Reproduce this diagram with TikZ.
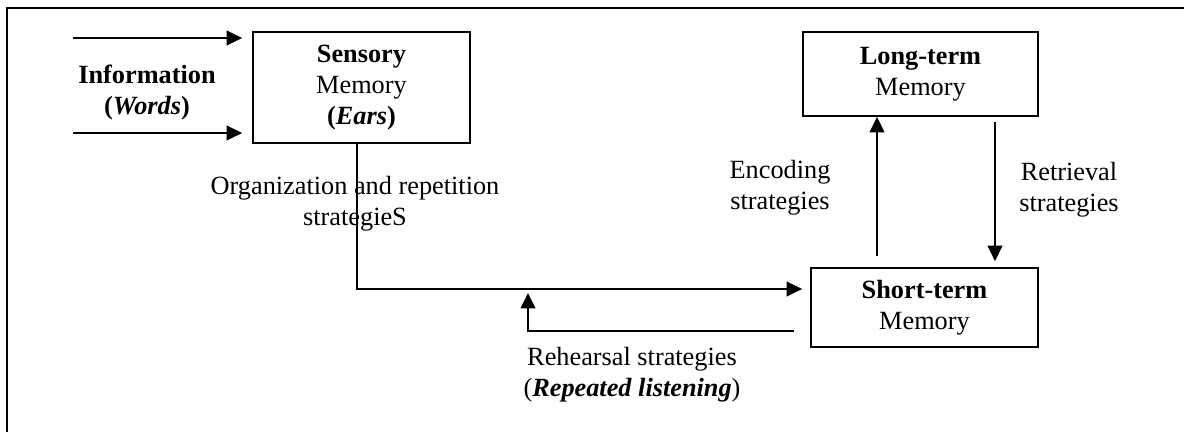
\documentclass[tikz,border=0pt]{standalone}
\usepackage{fontspec}
\setmainfont{Liberation Serif}
\usetikzlibrary{arrows.meta}

\begin{document}
\begin{tikzpicture}[x=0.025cm,y=-0.025cm,
		font=\fontsize{18.7}{22}\selectfont,
		memory/.style={draw,line width=1.2pt,inner sep=0pt,align=center},
		note/.style={align=center,inner sep=0pt},
		link/.style={line width=1.2pt,-{Triangle[length=11pt,width=10.5pt]}}]
		\useasboundingbox (0,0) rectangle (1184,432);
		\draw[line width=1.4pt] (1184,8) -- (7,8) -- (7,432);
		\node[memory,minimum width=5.425cm,minimum height=2.775cm] (sensory) at (361.5,87.5)
			{\textbf{Sensory}\\Memory\\\textbf{(\textit{Ears})}};
		\node[memory,minimum width=5.875cm,minimum height=2.1cm] (long) at (920.5,74)
			{\textbf{Long-term}\\Memory};
		\node[memory,minimum width=5.675cm,minimum height=1.975cm] (short) at (924.5,307.5)
			{\textbf{Short-term}\\Memory};
		\node[note] (info) at (147,92.5) {\textbf{Information}\\\textbf{(\textit{Words})}};
		\node[note] (organize) at (355,204) {Organization and repetition\\strategieS};
		\node[note] (encode) at (780,188) {Encoding\\strategies};
		\node[note] (retrieve) at (1069,190) {Retrieval\\strategies};
		\node[note] (rehearse) at (632,375) {Rehearsal strategies\\(\textbf{\textit{Repeated listening}})};
		\coordinate (in top) at (73,38);
		\coordinate (in bottom) at (73,133);
		\coordinate (turn) at (357,289);
		\coordinate (back) at (794,331);
		\coordinate (loop) at (528,331);
		\coordinate (loop tip) at (528,293);
		\coordinate (enc start) at (877,256);
		\coordinate (ret start) at (995,122);
		\draw[link,shorten >=0.25cm] (in top) -- (in top -| sensory.west);
		\draw[link,shorten >=0.25cm] (in bottom) -- (in bottom -| sensory.west);
		\draw[link,shorten >=0.2cm] (sensory.south -| turn) -- (turn) -- (turn -| short.west);
		\draw[link] (back) -- (loop) -- (loop tip);
		\draw[link] (enc start) -- (enc start |- long.south);
		\draw[link,shorten >=0.15cm] (ret start) -- (ret start |- short.north);
	\end{tikzpicture}
\end{document}
